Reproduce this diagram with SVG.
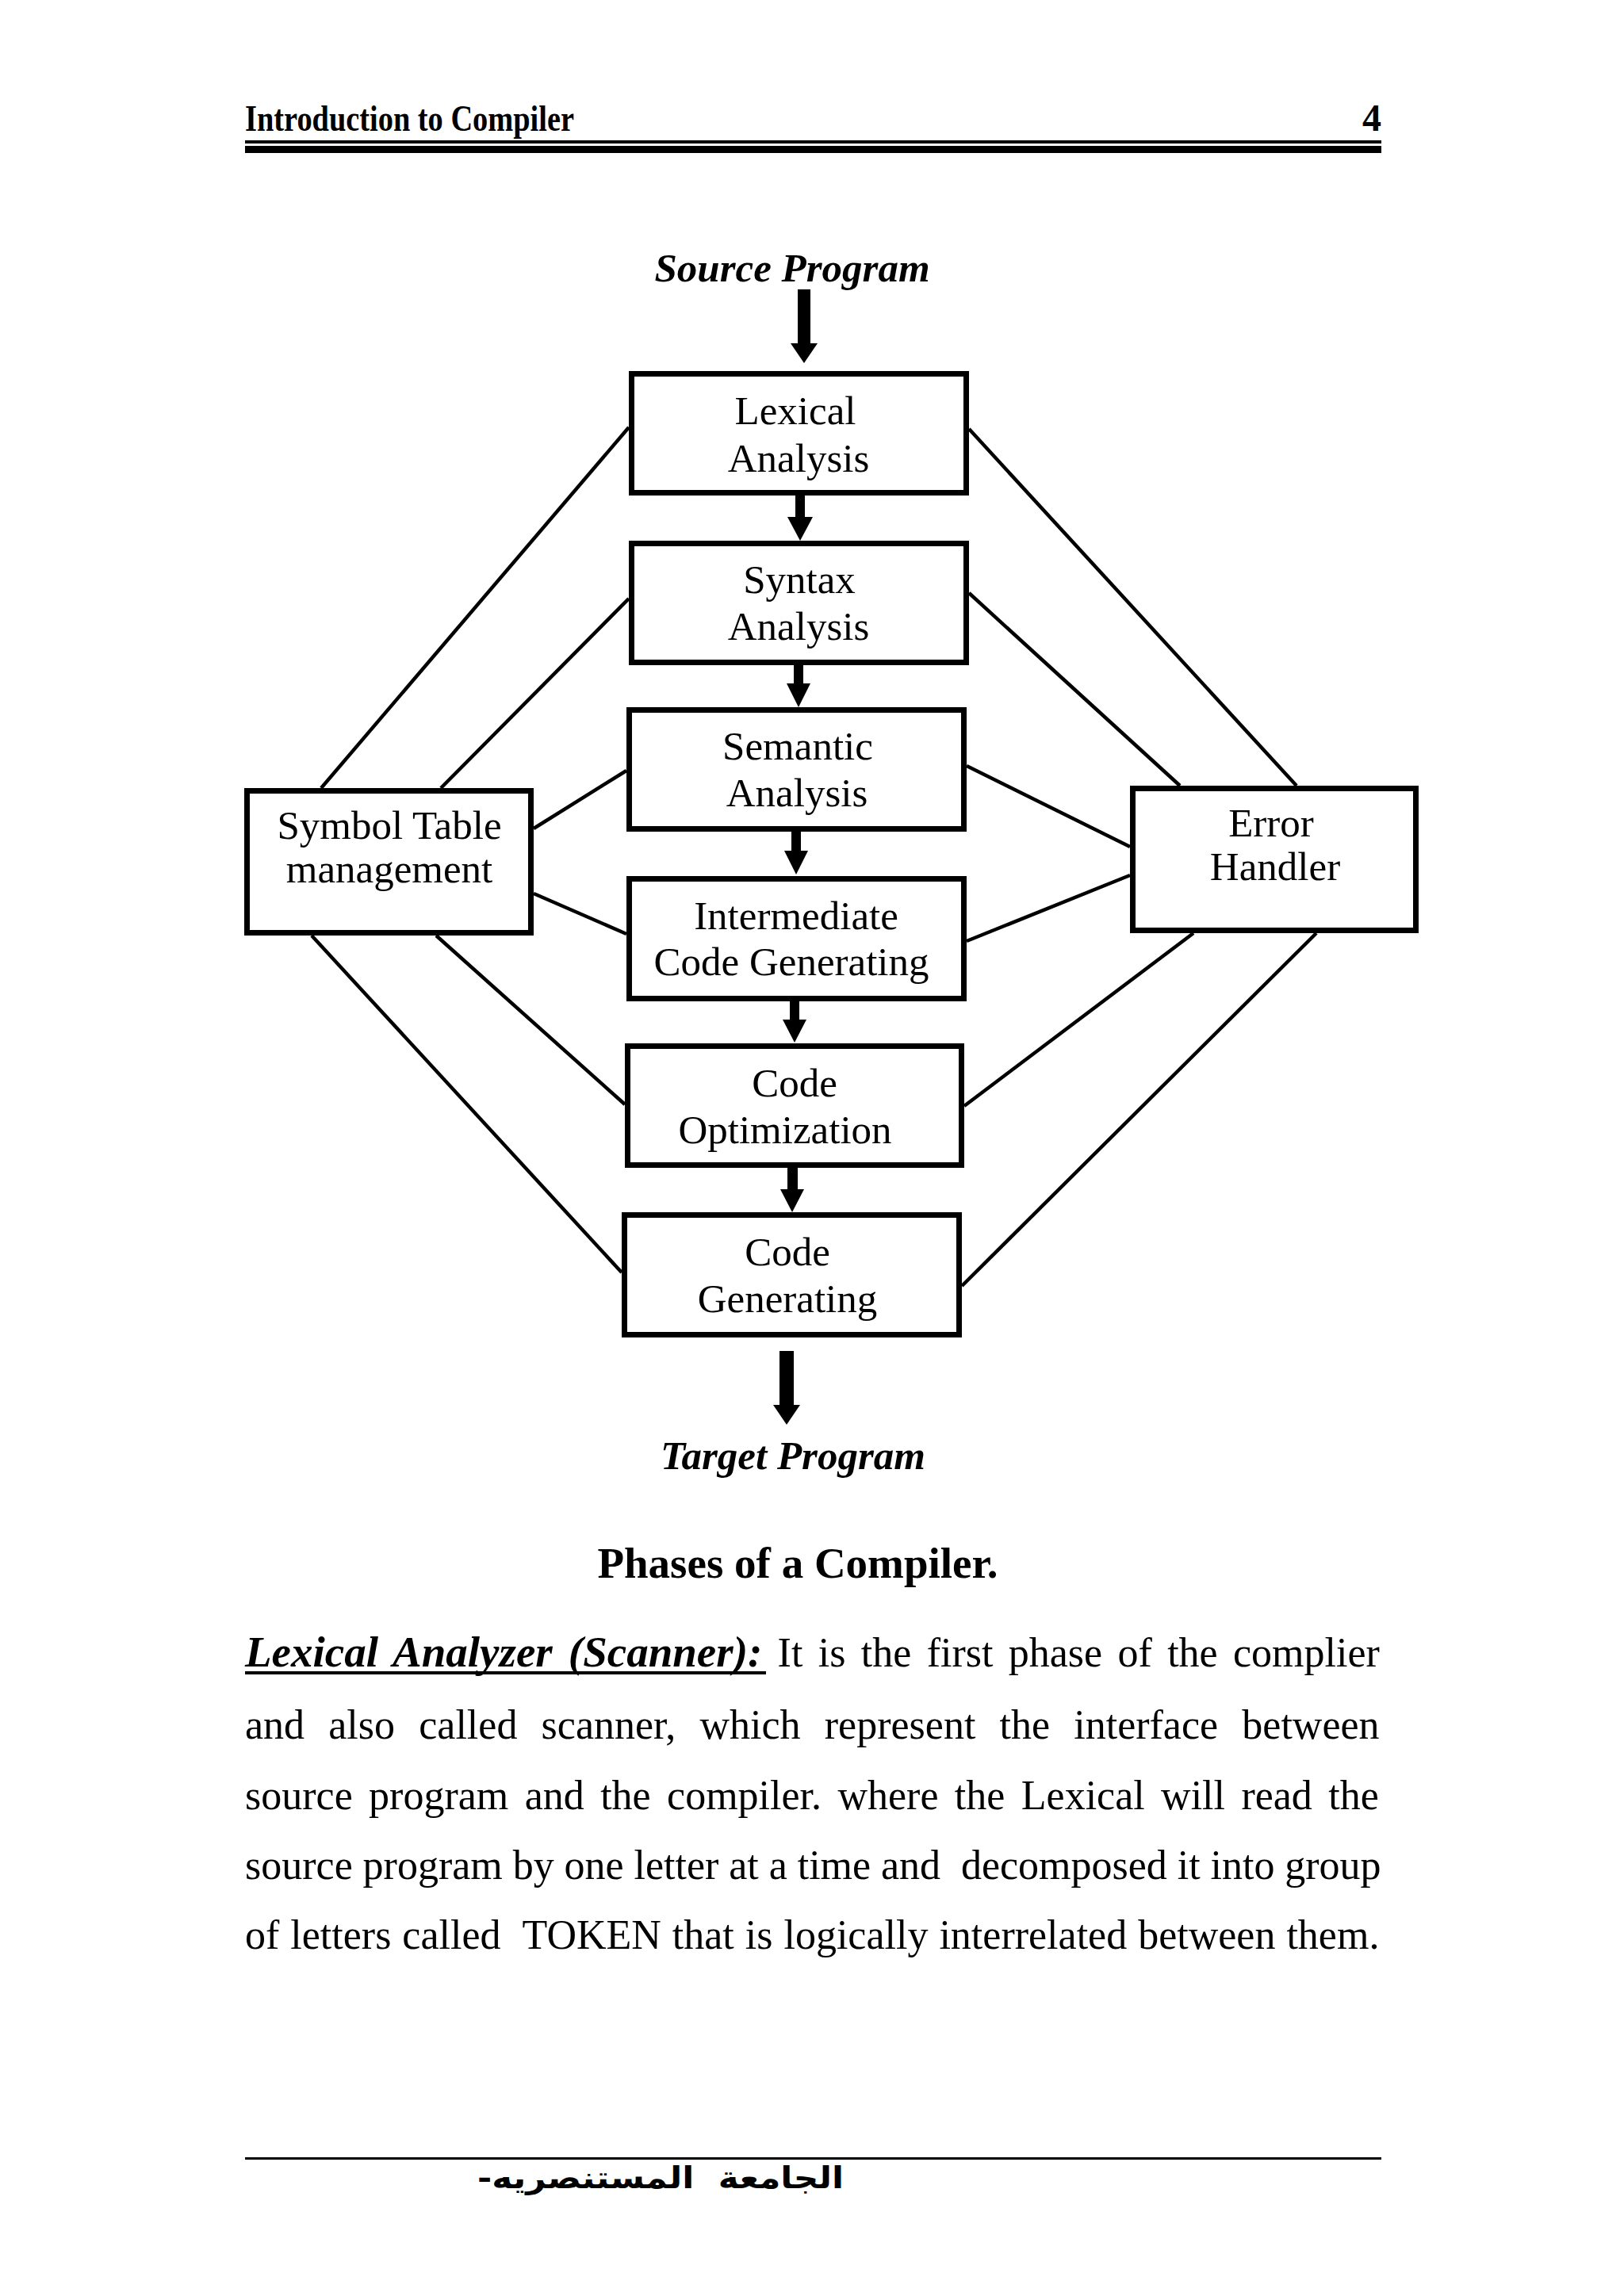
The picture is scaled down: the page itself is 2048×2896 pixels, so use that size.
<svg xmlns="http://www.w3.org/2000/svg" width="2048" height="2896" viewBox="0 0 2048 2896">
<style>
.box{fill:#fff;stroke:#000;stroke-width:7}
.lbl{font-family:"Liberation Serif","Times New Roman",serif;font-size:51px;fill:#000;text-anchor:middle}
.conn{stroke:#000;stroke-width:4.5;fill:none;stroke-linecap:butt}
.arr{fill:#000;stroke:none}
.io{font-family:"Liberation Serif","Times New Roman",serif;font-size:51px;font-weight:bold;font-style:italic;fill:#000;text-anchor:middle}
.body{font-family:"Liberation Serif","Times New Roman",serif;font-size:52px;fill:#000}
.hd{font-weight:bold;font-style:italic;font-size:55px}
</style>
<rect x="0" y="0" width="2048" height="2896" fill="#fff"/>

<g id="page-header">
  <text x="309" y="165" font-family="'Liberation Serif','Times New Roman',serif" font-size="46" font-weight="bold" textLength="415" lengthAdjust="spacingAndGlyphs">Introduction to Compiler</text>
  <text x="1742" y="165" font-family="'Liberation Serif','Times New Roman',serif" font-size="48" font-weight="bold" text-anchor="end">4</text>
  <rect x="309" y="177" width="1433" height="4" fill="#000"/>
  <rect x="309" y="184" width="1433" height="9" fill="#000"/>
</g>

<g id="connectors">
  <line class="conn" x1="405" y1="994" x2="793" y2="539"/>
  <line class="conn" x1="556" y1="994" x2="793" y2="755"/>
  <line class="conn" x1="673" y1="1045" x2="790" y2="972"/>
  <line class="conn" x1="673" y1="1127" x2="790" y2="1178"/>
  <line class="conn" x1="550" y1="1180" x2="788" y2="1393"/>
  <line class="conn" x1="393" y1="1180" x2="784" y2="1605"/>
  <line class="conn" x1="1222" y1="541" x2="1635" y2="991"/>
  <line class="conn" x1="1222" y1="748" x2="1488" y2="991"/>
  <line class="conn" x1="1219" y1="966" x2="1425" y2="1068"/>
  <line class="conn" x1="1219" y1="1187" x2="1425" y2="1104"/>
  <line class="conn" x1="1216" y1="1395" x2="1505" y2="1177"/>
  <line class="conn" x1="1213" y1="1622" x2="1660" y2="1177"/>
  <path class="arr" d="M1006,365 H1022 V433 H1031 L1014,458 L997,433 H1006 Z"/>
  <path class="arr" d="M1003,622 H1015 V652 H1025 L1009,682 L993,652 H1003 Z"/>
  <path class="arr" d="M1001,836 H1013 V862 H1022 L1007,892 L992,862 H1001 Z"/>
  <path class="arr" d="M998,1046 H1010 V1073 H1019 L1004,1103 L989,1073 H998 Z"/>
  <path class="arr" d="M996,1260 H1008 V1286 H1017 L1002,1315 L987,1286 H996 Z"/>
  <path class="arr" d="M993,1470 H1006 V1500 H1014 L999,1529 L984,1500 H993 Z"/>
  <path class="arr" d="M983,1704 H1001 V1772 H1009 L992,1797 L975,1772 H983 Z"/>
</g>

<g id="source-program">
  <text class="io" x="999" y="355">Source Program</text>
</g>
<g id="lexical-analysis">
  <rect class="box" x="796.5" y="471.5" width="422" height="150"/>
  <text class="lbl" x="1003" y="535">Lexical</text>
  <text class="lbl" x="1007" y="595">Analysis</text>
</g>
<g id="syntax-analysis">
  <rect class="box" x="796.5" y="685.5" width="422" height="150"/>
  <text class="lbl" x="1008" y="748">Syntax</text>
  <text class="lbl" x="1007" y="807">Analysis</text>
</g>
<g id="semantic-analysis">
  <rect class="box" x="793.5" y="895.5" width="422" height="150"/>
  <text class="lbl" x="1006" y="958">Semantic</text>
  <text class="lbl" x="1005" y="1017">Analysis</text>
</g>
<g id="intermediate-code">
  <rect class="box" x="793.5" y="1108.5" width="422" height="151"/>
  <text class="lbl" x="1004" y="1172">Intermediate</text>
  <text class="lbl" x="998" y="1230">Code Generating</text>
</g>
<g id="code-optimization">
  <rect class="box" x="791.5" y="1319.5" width="421" height="150"/>
  <text class="lbl" x="1002" y="1383">Code</text>
  <text class="lbl" x="990" y="1442">Optimization</text>
</g>
<g id="code-generating">
  <rect class="box" x="787.5" y="1532.5" width="422" height="151"/>
  <text class="lbl" x="993" y="1596">Code</text>
  <text class="lbl" x="993" y="1655">Generating</text>
</g>
<g id="symbol-table">
  <rect class="box" x="311.5" y="997.5" width="358" height="179"/>
  <text class="lbl" x="491" y="1058">Symbol Table</text>
  <text class="lbl" x="491" y="1113">management</text>
</g>
<g id="error-handler">
  <rect class="box" x="1428.5" y="994.5" width="357" height="179"/>
  <text class="lbl" x="1603" y="1055">Error</text>
  <text class="lbl" x="1608" y="1110">Handler</text>
</g>
<g id="target-program">
  <text class="io" x="1000" y="1853">Target Program</text>
</g>

<g id="caption">
  <text x="1006" y="1990" font-family="'Liberation Serif','Times New Roman',serif" font-size="55" font-weight="bold" text-anchor="middle">Phases of a Compiler.</text>
</g>

<g id="body-text">
  <text class="body" x="309" y="2102" xml:space="preserve" style="word-spacing:6.35px"><tspan class="hd">Lexical Analyzer (Scanner):</tspan> It is the first phase of the complier</text>
  <rect x="309" y="2108" width="657" height="4" fill="#000"/>
  <text class="body" x="309" y="2193" xml:space="preserve" style="word-spacing:17.2px">and also called scanner, which represent the interface between</text>
  <text class="body" x="309" y="2282" xml:space="preserve" style="word-spacing:7.4px">source program and the compiler. where the Lexical will read the</text>
  <text class="body" x="309" y="2370" xml:space="preserve" style="word-spacing:-0.1px">source program by one letter at a time and  decomposed it into group</text>
  <text class="body" x="309" y="2458" xml:space="preserve" style="word-spacing:1px">of letters called  TOKEN that is logically interrelated between them.</text>
</g>

<g id="page-footer">
  <rect x="309" y="2721" width="1433" height="3" fill="#000"/>
  <text x="602" y="2760" xml:space="preserve" font-family="'DejaVu Sans',sans-serif" font-size="38" font-weight="bold" textLength="462" lengthAdjust="spacingAndGlyphs">-الجامعة  المستنصريه</text>
</g>
</svg>
